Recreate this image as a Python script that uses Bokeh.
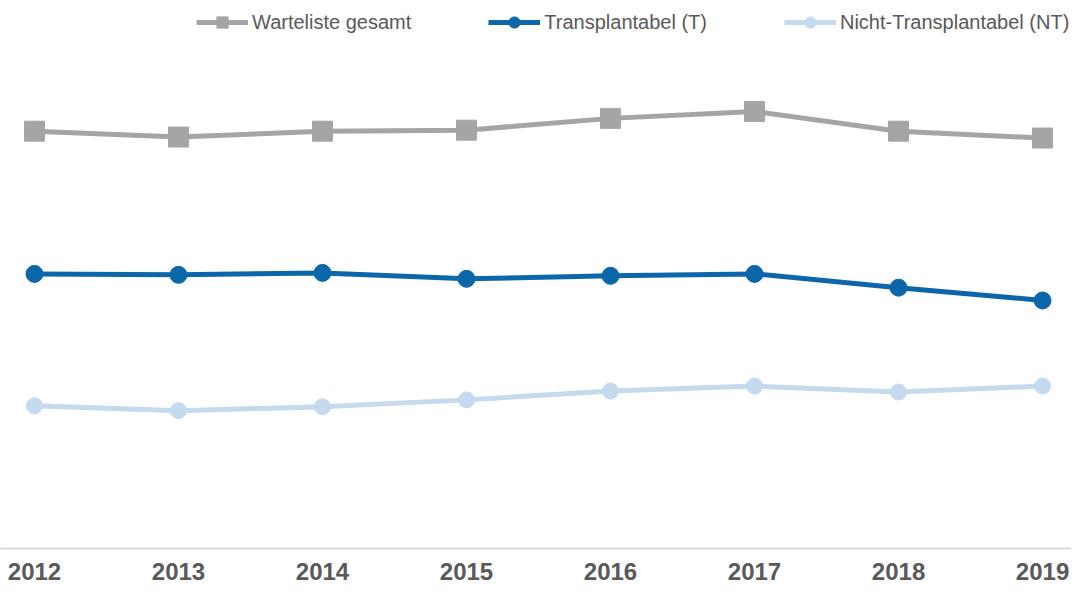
from bokeh.plotting import figure
from bokeh.models import Range1d, FixedTicker, Legend, LegendItem
from bokeh.embed import file_html
from bokeh.resources import INLINE

years = [2012, 2013, 2014, 2015, 2016, 2017, 2018, 2019]
gesamt = [10600, 10450, 10600, 10625, 10925, 11100, 10600, 10425]
transplantabel = [6975, 6950, 7000, 6850, 6925, 6975, 6625, 6300]
nicht_transplantabel = [3625, 3500, 3600, 3775, 4000, 4125, 3975, 4125]

labels = ["Warteliste gesamt", "Transplantabel (T)", "Nicht-Transplantabel (NT)"]
colors = ["#a5a5a5", "#0b67a9", "#c5d9ef"]

p = figure(width=1071, height=583, output_backend="svg", toolbar_location=None,
           x_range=Range1d(2011.764, 2019.201), y_range=Range1d(0, 13919),
           min_border_left=0, min_border_right=0, min_border_top=0, min_border_bottom=35)
p.outline_line_color = None
p.xgrid.visible = False
p.ygrid.visible = False
p.yaxis.visible = False

ax = p.xaxis[0]
ax.ticker = FixedTicker(ticks=years)
ax.major_tick_line_color = None
ax.minor_tick_line_color = None
ax.axis_line_color = "#d9d9d9"
ax.axis_line_width = 2
ax.major_label_text_font = "Liberation Sans"
ax.major_label_text_font_style = "bold"
ax.major_label_text_font_size = "24px"
ax.major_label_text_color = "#595959"
ax.major_label_standoff = 8

l1 = p.line(years, gesamt, line_color=colors[0], line_width=5)
m1 = p.scatter(years, gesamt, marker="square", size=20, fill_color=colors[0], line_color=colors[0])
l2 = p.line(years, transplantabel, line_color=colors[1], line_width=5)
m2 = p.scatter(years, transplantabel, marker="circle", size=17, fill_color=colors[1], line_color=colors[1])
l3 = p.line(years, nicht_transplantabel, line_color=colors[2], line_width=5)
m3 = p.scatter(years, nicht_transplantabel, marker="circle", size=16, fill_color=colors[2], line_color=colors[2])

legend = Legend(items=[LegendItem(label=labels[0], renderers=[l1, m1]),
                       LegendItem(label=labels[1], renderers=[l2, m2]),
                       LegendItem(label=labels[2], renderers=[l3, m3])],
                orientation="horizontal", location=(196, 512),
                glyph_width=52, glyph_height=28, label_standoff=4, spacing=77,
                padding=0, margin=0, border_line_color=None, background_fill_alpha=0,
                label_text_font="Liberation Sans", label_text_font_size="20px",
                label_text_color="#595959")
p.add_layout(legend)

open("out.html", "w").write(file_html(p, INLINE))
